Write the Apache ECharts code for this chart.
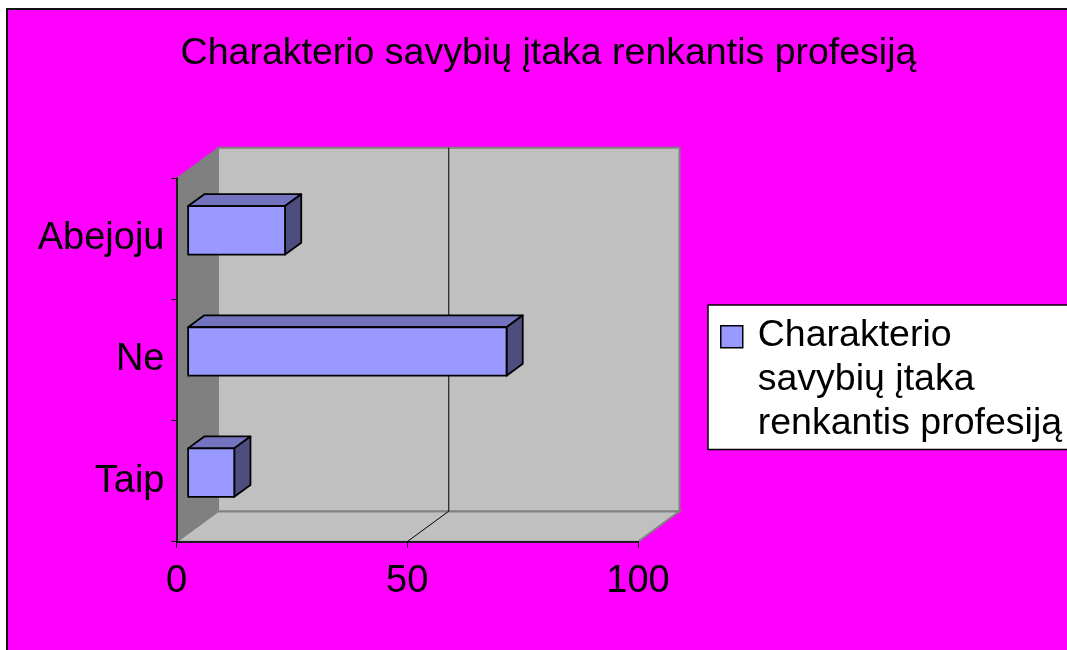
<!DOCTYPE html>
<html>
<head>
<meta charset="utf-8">
<script src="https://cdn.jsdelivr.net/npm/echarts@6/dist/echarts.min.js"></script>
<style>
  html, body { margin: 0; padding: 0; background: #ff00ff; overflow: hidden; width: 1067px; height: 650px; }
  #stripTop { position: absolute; left: 0; top: 0; width: 1067px; height: 8px; background: #fff; border-bottom: 2px solid #111; }
  #stripLeft { position: absolute; left: 0; top: 8px; width: 6px; height: 642px; background: #fff; border-right: 2px solid #111; }
  #chart { position: absolute; left: 0; top: 0; width: 1067px; height: 650px; }
</style>
</head>
<body>
<div id="stripTop"></div>
<div id="stripLeft"></div>
<div id="chart"></div>
<script>
const chartTitle = 'Charakterio savybių įtaka renkantis profesiją'
const categories = ['Taip', 'Ne', 'Abejoju']
const values = [10, 69, 21]
const xTicks = [0, 50, 100]
const legendLines = ['Charakterio', 'savybių įtaka', 'renkantis profesiją']

const FONT = '"Liberation Sans", Arial, sans-serif'
// oblique offset from the front plane to the back wall
const DEPTH = [41.5, -30.5]
const BAR_FRONT = 0.28
const BAR_DEPTH = 0.39
const BAR_SIZE = 0.4

function renderWalls(params, api) {
  const cs = params.coordSys
  const [dx, dy] = DEPTH
  const l = cs.x, t = cs.y, r = cs.x + cs.width, b = cs.y + cs.height
  const children = [
    {
      type: 'polygon',
      shape: { points: [[l, b], [l, t], [l + dx, t + dy], [l + dx, b + dy]] },
      style: { fill: '#808080', stroke: '#808080', lineWidth: 1 },
    },
    {
      type: 'polygon',
      shape: { points: [[l, b], [r, b], [r + dx, b + dy], [l + dx, b + dy]] },
      style: { fill: '#c0c0c0', stroke: '#808080', lineWidth: 2 },
    },
    {
      type: 'rect',
      shape: { x: l + dx, y: t + dy, width: cs.width, height: cs.height },
      style: { fill: '#c0c0c0', stroke: '#808080', lineWidth: 2 },
    },
  ]
  xTicks.slice(1, -1).forEach((v) => {
    const x = api.coord([v, 0])[0]
    children.push({
      type: 'polyline',
      shape: { points: [[x, b], [x + dx, b + dy], [x + dx, t + dy]] },
      style: { stroke: '#000', lineWidth: 1, fill: null },
    })
  })
  return { type: 'group', children }
}

function renderBar(params, api) {
  const c = api.value(1)
  const start = api.coord([0, c])
  const end = api.coord([api.value(0), c])
  const h = api.size([0, 1])[1] * BAR_SIZE
  const [dx, dy] = DEPTH
  const x0 = start[0] + dx * BAR_FRONT
  const x1 = end[0] + dx * BAR_FRONT
  const y0 = start[1] + dy * BAR_FRONT - h / 2
  const y1 = y0 + h
  const bx = dx * BAR_DEPTH, by = dy * BAR_DEPTH
  const edge = { stroke: '#000', lineWidth: 1.8, lineJoin: 'round' }
  return {
    type: 'group',
    children: [
      {
        type: 'polygon',
        shape: { points: [[x0, y0], [x1, y0], [x1 + bx, y0 + by], [x0 + bx, y0 + by]] },
        style: { fill: '#7373bf', ...edge },
      },
      {
        type: 'polygon',
        shape: { points: [[x1, y0], [x1 + bx, y0 + by], [x1 + bx, y1 + by], [x1, y1]] },
        style: { fill: '#4d4d80', ...edge },
      },
      {
        type: 'rect',
        shape: { x: x0, y: y0, width: x1 - x0, height: h },
        style: { fill: api.visual('color'), ...edge },
      },
    ],
  }
}

const chart = echarts.init(document.getElementById('chart'))
chart.setOption({
  backgroundColor: 'transparent',
  animation: false,
  title: {
    text: chartTitle,
    left: 548.5,
    top: 35,
    textAlign: 'center',
    padding: 0,
    textStyle: { fontSize: 37.5, fontWeight: 'normal', color: '#000', fontFamily: FONT },
  },
  legend: {
    data: [chartTitle],
    left: 708,
    top: 305,
    right: -80,
    orient: 'vertical',
    backgroundColor: '#fff',
    borderColor: '#000',
    borderWidth: 1.5,
    borderRadius: 0,
    padding: [8, 40, 3, 12],
    itemWidth: 32,
    itemHeight: 132,
    icon: 'path://M0,12L22,12L22,34L0,34Z M0,0 M32,132',
    itemStyle: { color: '#9999ff', borderColor: '#000', borderWidth: 1.5 },
    textStyle: { fontSize: 37.5, lineHeight: 44, color: '#000', fontFamily: FONT },
    formatter: () => legendLines.join('\n'),
  },
  grid: {
    left: 176.5,
    top: 178.3,
    width: 461.5,
    height: 363.4,
    outerBoundsMode: 'none',
  },
  xAxis: {
    type: 'value',
    min: xTicks[0],
    max: xTicks[xTicks.length - 1],
    interval: xTicks[1] - xTicks[0],
    z: 10,
    axisLine: { show: true, lineStyle: { color: '#000', width: 1.5 } },
    axisTick: { show: true, length: 6, lineStyle: { color: '#000', width: 1 } },
    splitLine: { show: false },
    axisLabel: { color: '#000', fontSize: 38, fontFamily: FONT, margin: 21 },
  },
  yAxis: {
    type: 'category',
    data: categories,
    z: 10,
    axisLine: { show: true, lineStyle: { color: '#000', width: 1.5 } },
    axisTick: { show: true, length: 5, lineStyle: { color: '#000', width: 1 } },
    splitLine: { show: false },
    axisLabel: { color: '#000', fontSize: 38, fontFamily: FONT, margin: 12, padding: [12, 0, 0, 0] },
  },
  series: [
    {
      type: 'custom',
      name: 'walls',
      silent: true,
      z: 1,
      renderItem: renderWalls,
      data: [[0, 0]],
    },
    {
      type: 'custom',
      name: chartTitle,
      z: 3,
      itemStyle: { color: '#9999ff' },
      encode: { x: 0, y: 1 },
      renderItem: renderBar,
      data: values.map((v, i) => [v, i]),
    },
  ],
})
</script>
</body>
</html>
